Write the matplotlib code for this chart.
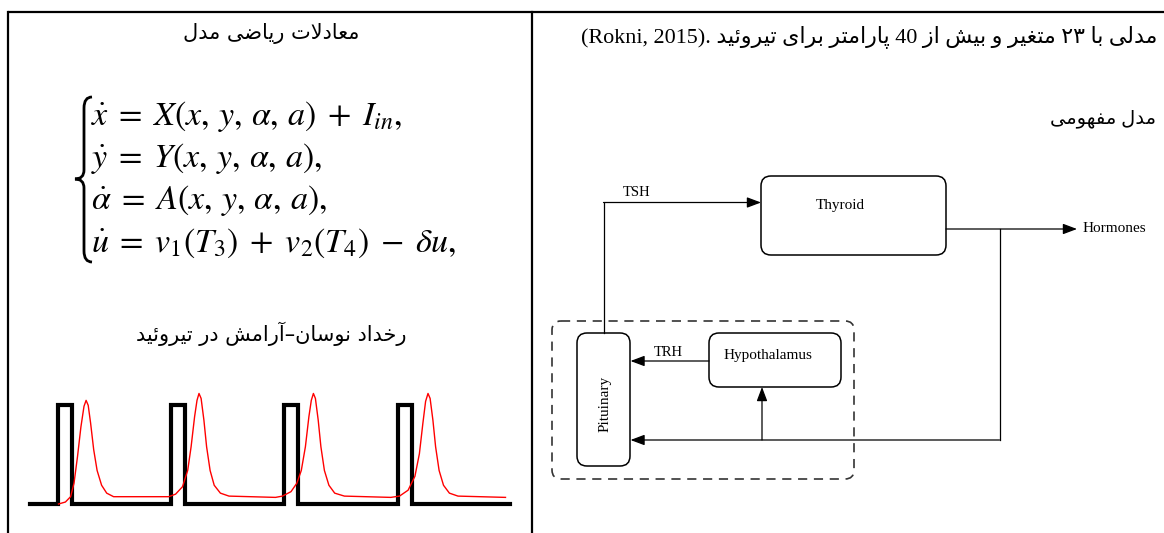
import matplotlib
matplotlib.use('Agg')
import matplotlib.pyplot as plt
from matplotlib.patches import FancyBboxPatch, PathPatch
from matplotlib.path import Path

# ---- text (persian is shaped by hand below, matplotlib has no shaping)
title_left = 'معادلات ریاضی مدل'
subtitle_left = 'رخداد نوسان–آرامش در تیروئید'
line_right = 'مدلی با ۲۳ متغیر و بیش از 40 پارامتر برای تیروئید'
cite_right = '(Rokni, 2015).'
title_right = 'مدل مفهومی'

equations = [r'$\dot{x}\;=\;X(x,\,y,\,\alpha,\,a)\;+\;I_{in},$',
             r'$\dot{y}\;=\;Y(x,\,y,\,\alpha,\,a),$',
             r'$\dot{\alpha}\;=\;A(x,\,y,\,\alpha,\,a),$',
             r'$\dot{u}\;=\;v_1(T_3)\;+\;v_2(T_4)\;-\;\delta u,$']

# ---- pulse sketch data (time, level)
stim_t = [0, 2.72, 2.72, 4.13, 4.13, 14.08, 14.08, 15.46, 15.46, 25.38, 25.38,
          26.76, 26.76, 36.74, 36.74, 38.12, 38.12, 47.93]
stim_v = [0, 0, 1, 1, 0, 0, 1, 1, 0, 0, 1, 1, 0, 0, 1, 1, 0, 0]

resp_t = [2.82, 3.51, 4.03, 4.37, 4.72, 5.06, 5.37, 5.58, 5.79, 6.03, 6.34, 6.68,
          7.13, 7.64, 8.33, 13.84, 14.53, 15.22, 15.74, 16.08, 16.43, 16.67, 16.87,
          17.08, 17.36, 17.63, 17.98, 18.39, 19.01, 19.87, 24.52, 25.21, 26.07,
          26.65, 27.10, 27.51, 27.86, 28.10, 28.31, 28.51, 28.79, 29.06, 29.41,
          29.86, 30.44, 31.41, 36.05, 36.92, 37.78, 38.46, 38.91, 39.26, 39.53,
          39.77, 39.98, 40.26, 40.53, 40.88, 41.32, 41.91, 42.77, 47.52]
resp_v = [0.0, 0.02, 0.074, 0.21, 0.48, 0.78, 0.99, 1.05, 1.0, 0.82, 0.55, 0.34,
          0.19, 0.11, 0.074, 0.074, 0.10, 0.175, 0.34, 0.58, 0.885, 1.05, 1.12,
          1.07, 0.85, 0.58, 0.34, 0.19, 0.11, 0.08, 0.067, 0.08, 0.125,
          0.21, 0.34, 0.58, 0.885, 1.05, 1.12, 1.07, 0.85, 0.58, 0.34,
          0.19, 0.11, 0.08, 0.067, 0.08, 0.14, 0.28, 0.51, 0.82, 1.04,
          1.12, 1.07, 0.85, 0.58, 0.34, 0.19, 0.11, 0.08, 0.067]

#%%
# isolated, final, initial, medial
FORMS = {
    'ا': ('\ufe8d', '\ufe8e', None, None),
    'آ': ('\ufe81', '\ufe82', None, None),
    'ب': ('\ufe8f', '\ufe90', '\ufe91', '\ufe92'),
    'پ': ('\ufb56', '\ufb57', '\ufb58', '\ufb59'),
    'ت': ('\ufe95', '\ufe96', '\ufe97', '\ufe98'),
    'خ': ('\ufea5', '\ufea6', '\ufea7', '\ufea8'),
    'د': ('\ufea9', '\ufeaa', None, None),
    'ر': ('\ufead', '\ufeae', None, None),
    'ز': ('\ufeaf', '\ufeb0', None, None),
    'س': ('\ufeb1', '\ufeb2', '\ufeb3', '\ufeb4'),
    'ش': ('\ufeb5', '\ufeb6', '\ufeb7', '\ufeb8'),
    'ض': ('\ufebd', '\ufebe', '\ufebf', '\ufec0'),
    'ع': ('\ufec9', '\ufeca', '\ufecb', '\ufecc'),
    'غ': ('\ufecd', '\ufece', '\ufecf', '\ufed0'),
    'ف': ('\ufed1', '\ufed2', '\ufed3', '\ufed4'),
    'ل': ('\ufedd', '\ufede', '\ufedf', '\ufee0'),
    'م': ('\ufee1', '\ufee2', '\ufee3', '\ufee4'),
    'ن': ('\ufee5', '\ufee6', '\ufee7', '\ufee8'),
    'ه': ('\ufee9', '\ufeea', '\ufeeb', '\ufeec'),
    'و': ('\ufeed', '\ufeee', None, None),
    'ی': ('\ufbfc', '\ufbfd', '\ufbfe', '\ufbff'),
    'ئ': ('\ufe89', '\ufe8a', '\ufe8b', '\ufe8c'),
}


def shape(s):
    out = []
    i = 0
    n = len(s)
    while i < n:
        c = s[i]
        if c not in FORMS:
            out.append(c)
            i += 1
            continue
        prev = s[i - 1] if i > 0 else ''
        joins_prev = prev in FORMS and FORMS[prev][2] is not None
        if c == 'ل' and i + 1 < n and s[i + 1] == 'ا':
            out.append('\ufefc' if joins_prev else '\ufefb')
            i += 2
            continue
        nxt = s[i + 1] if i + 1 < n else ''
        joins_next = nxt in FORMS and FORMS[c][2] is not None
        f = FORMS[c]
        if joins_prev and joins_next:
            out.append(f[3])
        elif joins_prev:
            out.append(f[1])
        elif joins_next:
            out.append(f[2])
        else:
            out.append(f[0])
        i += 1
    # visual order: reverse, but keep digit runs as they are
    runs = []
    for ch in out:
        if ch.isdigit() and runs and runs[-1][0].isdigit():
            runs[-1] += ch
        else:
            runs.append(ch)
    return ''.join(runs[::-1])


serif = ['Liberation Serif', 'DejaVu Sans']
sans = ['DejaVu Sans']
plt.rcParams['mathtext.fontset'] = 'stix'

#%%
fig = plt.figure(figsize=(11.64, 5.33), dpi=100)
ax = fig.add_axes([0, 0, 1, 1])
ax.set_xlim(0, 1164)
ax.set_ylim(533, 0)
ax.axis('off')

# table frame
ax.plot([7.5, 1164], [11.5, 11.5], color='black', lw=1.6, solid_capstyle='butt')
ax.plot([7.5, 7.5], [11.5, 533], color='black', lw=1.6)
ax.plot([532, 532], [11.5, 533], color='black', lw=1.6)

# left cell
ax.text(271, 33, shape(title_left), ha='center', va='center', fontsize=15, family=sans)
eq_y = [116, 158, 201, 243]
for y, eq in zip(eq_y, equations):
    ax.text(91, y, eq, ha='left', va='center', fontsize=24.5)
brace = Path([(92, 97), (84, 97), (84, 108), (84, 170), (84, 179), (75, 179),
              (84, 179), (84, 188), (84, 251), (84, 262), (92, 262)],
             [Path.MOVETO, Path.CURVE3, Path.CURVE3, Path.LINETO, Path.CURVE3, Path.CURVE3,
              Path.CURVE3, Path.CURVE3, Path.LINETO, Path.CURVE3, Path.CURVE3])
ax.add_patch(PathPatch(brace, fill=False, lw=2.0, color='black'))
ax.text(271, 334, shape(subtitle_left), ha='center', va='center', fontsize=15, family=sans)

# pulse sketch
pax = fig.add_axes([30.3 / 1164, (533 - 504) / 533, 479.3 / 1164, 98.7 / 533])
pax.plot(stim_t, stim_v, color='black', lw=3.0, solid_joinstyle='miter', clip_on=False)
pax.plot(resp_t, resp_v, color='red', lw=1.0, clip_on=False)
pax.set_xlim(0, 47.93)
pax.set_ylim(0, 1)
pax.axis('off')

# right cell
ax.text(1157, 37, cite_right + ' ' + shape(line_right), ha='right', va='center',
        fontsize=15.9, family=serif)
ax.text(1156, 119, shape(title_right), ha='right', va='center', fontsize=14, family=serif)


def box(x, y, w, h, r=9, **kw):
    p = FancyBboxPatch((x, y), w, h, boxstyle='round,pad=0,rounding_size=%g' % r,
                       facecolor='none', edgecolor=kw.get('ec', 'black'),
                       lw=kw.get('lw', 1.1), linestyle=kw.get('ls', '-'))
    ax.add_patch(p)


def arrow(x0, y0, x1, y1):
    ax.annotate('', xy=(x1, y1), xytext=(x0, y0),
                arrowprops=dict(arrowstyle='-|>,head_length=0.85,head_width=0.32',
                                color='black', lw=0.9, mutation_scale=10,
                                shrinkA=0, shrinkB=0))


box(761, 176, 185, 79, r=10)                       # thyroid
box(577, 333, 53, 133, r=10)                       # pituitary
box(709, 333, 132, 54, r=10)                       # hypothalamus
box(552, 321, 302, 158, r=9, ec='#333333', lw=1.2, ls=(0, (5.5, 4)))

ax.text(840, 205, 'Thyroid', ha='center', va='center', fontsize=11, family=serif)
ax.text(768, 356, 'Hypothalamus', ha='center', va='center', fontsize=11, family=serif)
ax.text(605, 404, 'Pituinary', ha='center', va='center', fontsize=11, family=serif, rotation=90)
ax.text(637, 193, 'TSH', ha='center', va='center', fontsize=10.5, family=serif)
ax.text(668, 353, 'TRH', ha='center', va='center', fontsize=10.5, family=serif)
ax.text(1083, 229, 'Hormones', ha='left', va='center', fontsize=11, family=serif)

# TSH path
ax.plot([603.5, 603.5], [333, 202.5], color='black', lw=0.9, solid_capstyle='projecting')
arrow(603.5, 202.5, 761, 202.5)
# hormones out
arrow(946, 229, 1077, 229)
# feedback loop
ax.plot([999.5, 999.5], [229, 440], color='black', lw=0.9, solid_capstyle='projecting')
arrow(999.5, 440, 630.5, 440)
arrow(762, 440, 762, 387)
# TRH
arrow(709, 361, 630.5, 361)

fig.savefig('out.png', dpi=100)
